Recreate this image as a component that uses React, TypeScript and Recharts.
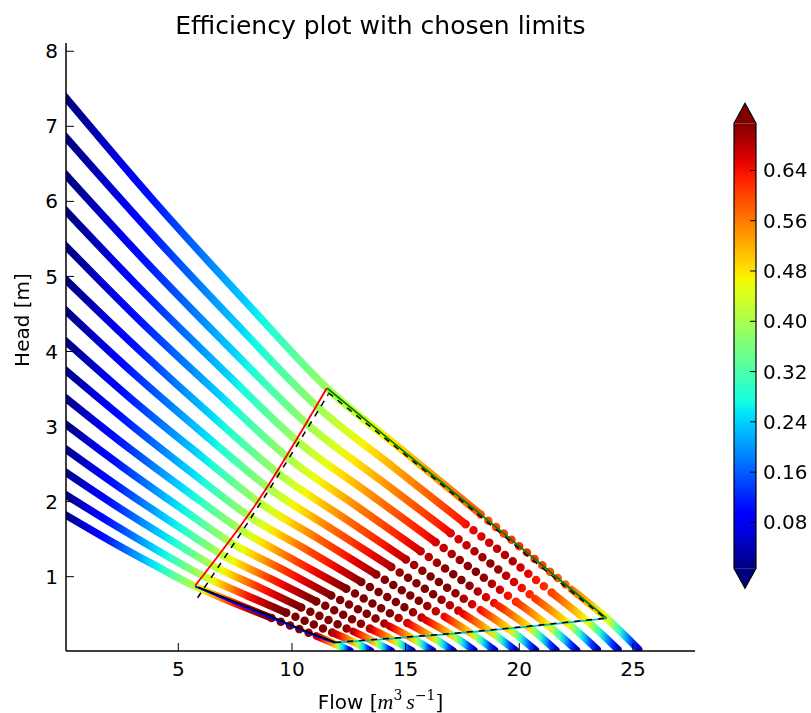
import React from 'react';
import { LineChart, Line, XAxis, YAxis } from 'recharts';

// one knot per row: [flow, head, efficiency]
type Knot = [number, number, number];

const curve01: Knot[] = [[0, 7.40, 0.00], [4.00, 5.98, 0.11], [8.00, 4.65, 0.24], [11.55, 3.51, 0.39], [15.00, 2.65, 0.50], [18.30, 1.83, 0.59], [20.30, 1.33, 0.62], [22.30, 0.83, 0.57], [23.85, 0.445, 0.46], [25.25, 0.03, 0.05]];
const curve02: Knot[] = [[0, 6.87, 0.00], [3.86, 5.56, 0.11], [7.71, 4.32, 0.24], [11.13, 3.26, 0.39], [14.46, 2.46, 0.52], [17.64, 1.70, 0.64], [19.57, 1.24, 0.69], [21.50, 0.77, 0.60], [22.99, 0.41, 0.46], [24.34, 0.03, 0.05]];
const curve03: Knot[] = [[0, 6.37, 0.00], [3.71, 5.15, 0.11], [7.42, 4.00, 0.24], [10.72, 3.02, 0.39], [13.92, 2.28, 0.53], [16.98, 1.58, 0.65], [18.84, 1.15, 0.71], [20.69, 0.71, 0.61], [22.13, 0.38, 0.47], [23.43, 0.03, 0.05]];
const curve04: Knot[] = [[0, 5.89, 0.00], [3.57, 4.76, 0.11], [7.14, 3.70, 0.24], [10.30, 2.79, 0.40], [13.38, 2.11, 0.54], [16.32, 1.46, 0.66], [18.11, 1.06, 0.72], [19.89, 0.66, 0.62], [21.27, 0.35, 0.47], [22.52, 0.02, 0.05]];
const curve05: Knot[] = [[0, 5.42, 0.00], [3.42, 4.38, 0.11], [6.85, 3.41, 0.24], [9.89, 2.57, 0.40], [12.84, 1.94, 0.55], [15.66, 1.34, 0.67], [17.38, 0.97, 0.73], [19.09, 0.61, 0.63], [20.42, 0.33, 0.48], [21.61, 0.02, 0.05]];
const curve06: Knot[] = [[0, 4.97, 0.00], [3.28, 4.02, 0.11], [6.56, 3.12, 0.25], [9.47, 2.36, 0.40], [12.30, 1.78, 0.56], [15.01, 1.23, 0.68], [16.65, 0.89, 0.74], [18.29, 0.56, 0.64], [19.56, 0.30, 0.48], [20.71, 0.02, 0.05]];
const curve07: Knot[] = [[0, 4.56, 0.00], [3.14, 3.68, 0.12], [6.28, 2.86, 0.25], [9.07, 2.16, 0.40], [11.78, 1.63, 0.57], [14.37, 1.13, 0.69], [15.94, 0.82, 0.74], [17.51, 0.51, 0.65], [18.72, 0.27, 0.49], [19.82, 0.02, 0.05]];
const curve08: Knot[] = [[0, 4.15, 0.00], [3.00, 3.35, 0.12], [5.99, 2.61, 0.25], [8.65, 1.97, 0.41], [11.24, 1.49, 0.58], [13.71, 1.03, 0.70], [15.20, 0.75, 0.75], [16.70, 0.47, 0.65], [17.86, 0.25, 0.49], [18.91, 0.02, 0.05]];
const curve09: Knot[] = [[0, 3.76, 0.01], [2.85, 3.04, 0.12], [5.70, 2.36, 0.25], [8.24, 1.78, 0.41], [10.70, 1.35, 0.59], [13.05, 0.93, 0.71], [14.47, 0.68, 0.75], [15.90, 0.42, 0.66], [17.00, 0.23, 0.49], [18.00, 0.02, 0.05]];
const curve10: Knot[] = [[0, 3.39, 0.01], [2.71, 2.74, 0.12], [5.42, 2.13, 0.26], [7.82, 1.61, 0.41], [10.16, 1.21, 0.60], [12.39, 0.84, 0.72], [13.74, 0.61, 0.76], [15.10, 0.38, 0.66], [16.15, 0.20, 0.50], [17.09, 0.01, 0.05]];
const curve11: Knot[] = [[0, 3.04, 0.01], [2.56, 2.46, 0.12], [5.13, 1.91, 0.26], [7.40, 1.44, 0.42], [9.62, 1.09, 0.61], [11.73, 0.75, 0.72], [13.01, 0.55, 0.76], [14.29, 0.34, 0.67], [15.29, 0.18, 0.50], [16.19, 0.01, 0.05]];
const curve12: Knot[] = [[0, 2.71, 0.01], [2.42, 2.19, 0.12], [4.84, 1.70, 0.26], [6.99, 1.28, 0.42], [9.08, 0.97, 0.62], [11.07, 0.67, 0.73], [12.28, 0.49, 0.76], [13.49, 0.30, 0.67], [14.43, 0.16, 0.50], [15.28, 0.01, 0.05]];
const curve13: Knot[] = [[0, 2.40, 0.01], [2.28, 1.94, 0.12], [4.55, 1.51, 0.26], [6.57, 1.14, 0.42], [8.54, 0.86, 0.62], [10.41, 0.59, 0.73], [11.55, 0.43, 0.77], [12.69, 0.27, 0.68], [13.57, 0.14, 0.51], [14.37, 0.01, 0.05]];
const curve14: Knot[] = [[0, 2.10, 0.01], [2.13, 1.70, 0.12], [4.26, 1.32, 0.26], [6.16, 1.00, 0.42], [8.00, 0.75, 0.63], [9.75, 0.52, 0.74], [10.82, 0.38, 0.77], [11.89, 0.24, 0.68], [12.71, 0.13, 0.51], [13.46, 0.01, 0.05]];
const curve15: Knot[] = [[0, 1.83, 0.01], [1.99, 1.48, 0.12], [3.98, 1.15, 0.26], [5.74, 0.87, 0.42], [7.46, 0.65, 0.63], [9.10, 0.45, 0.74], [10.09, 0.33, 0.77], [11.08, 0.21, 0.68], [11.85, 0.11, 0.51], [12.55, 0.01, 0.05]];

const curves = [curve01, curve02, curve03, curve04, curve05, curve06, curve07, curve08, curve09, curve10, curve11, curve12, curve13, curve14, curve15];

// chosen limits (coloured) and the fitted outline (black)
const limitLeft = [[5.74, 0.88], [8.6, 2.05], [11.53, 3.51]];
const limitTop = [[11.55, 3.51], [15.0, 2.65], [18.3, 1.83], [20.3, 1.33], [22.3, 0.83], [23.85, 0.445]];
const limitBottom = [[11.9, 0.12], [18.0, 0.265], [23.85, 0.445]];
const limitLowLeft = [[5.74, 0.87], [7.46, 0.65], [9.1, 0.45], [10.09, 0.33], [11.08, 0.21], [11.9, 0.12]];
const fitLeft = [[5.85, 0.72], [8.7, 2.02], [11.6, 3.43]];
const fitTop = [[11.6, 3.45], [15.0, 2.62], [18.3, 1.8], [22.3, 0.8], [23.85, 0.43]];
const fitBottom = [[11.9, 0.125], [18.0, 0.27], [23.85, 0.45]];
const fitLowLeft = [[5.9, 0.86], [7.46, 0.67], [9.1, 0.47], [10.5, 0.29], [11.9, 0.13]];

const xTicks = [5, 10, 15, 20, 25];
const yTicks = [1, 2, 3, 4, 5, 6, 7, 8];
const cbarTicks = [0.08, 0.16, 0.24, 0.32, 0.40, 0.48, 0.56, 0.64];
const effMin = 0.007;
const effMax = 0.715;

const JET: Record<string, number[][]> = {
  r: [[0, 0], [0.35, 0], [0.66, 1], [0.89, 1], [1, 0.5]],
  g: [[0, 0], [0.125, 0], [0.375, 1], [0.64, 1], [0.91, 0], [1, 0]],
  b: [[0, 0.5], [0.11, 1], [0.34, 1], [0.65, 0], [1, 0]],
};

function channel(pts: number[][], t: number) {
  for (let i = 1; i < pts.length; i++) {
    if (t <= pts[i][0]) {
      const [t0, v0] = pts[i - 1];
      const [t1, v1] = pts[i];
      return v0 + ((v1 - v0) * (t - t0)) / (t1 - t0);
    }
  }
  return pts[pts.length - 1][1];
}

function jetT(t: number) {
  const c = Math.max(0, Math.min(1, t));
  const r = Math.round(channel(JET.r, c) * 255);
  const g = Math.round(channel(JET.g, c) * 255);
  const b = Math.round(channel(JET.b, c) * 255);
  return `rgb(${r},${g},${b})`;
}

const jet = (eff: number) => jetT((eff - effMin) / (effMax - effMin));

function gradientStops(pts: Knot[]) {
  const x0 = pts[0][0];
  const x1 = pts[pts.length - 1][0];
  const out: { off: number; color: string }[] = [];
  for (let i = 0; i < pts.length - 1; i++) {
    const [qa, , ea] = pts[i];
    const [qb, , eb] = pts[i + 1];
    for (let k = 0; k < 5; k++) {
      const f = k / 5;
      out.push({ off: (qa + (qb - qa) * f - x0) / (x1 - x0), color: jet(ea + (eb - ea) * f) });
    }
  }
  out.push({ off: 1, color: jet(pts[pts.length - 1][2]) });
  return out;
}

// each curve: solid start, sparse dots near the peak, solid tail
const pieces = curves.flatMap((c, i) => [
  { id: `c${i}a`, pts: c.slice(0, 6), dotted: false },
  { id: `c${i}b`, pts: c.slice(5, 8), dotted: true },
  { id: `c${i}c`, pts: c.slice(7), dotted: false },
]);

const toRows = (pts: number[][]) => pts.map((p) => ({ flow: p[0], head: p[1] }));

const W = 795;
const H = 705;
const FONT = 'DejaVu Sans, sans-serif';

// colorbar geometry (page coordinates, overlay is fixed to the viewport)
const CB = { x0: 734, x1: 756, top: 123.3, bottom: 568.3, tip: 20 };
const cbY = (v: number) => CB.bottom - ((v - effMin) / (effMax - effMin)) * (CB.bottom - CB.top);

export default function App() {
  const tickStyle = { fill: '#000', fontSize: 20, fontFamily: FONT };
  const axisLine = { stroke: '#000', strokeWidth: 1.5 };
  const mid = (CB.x0 + CB.x1) / 2;
  return (
    <div style={{ position: 'relative', width: W, height: H }}>
      <style>{'html{overflow:hidden}'}</style>
      <LineChart width={W} height={H} margin={{ top: 35, right: 108, left: 0, bottom: 0 }}>
        <defs>
          {pieces.map((p) => (
            <linearGradient key={p.id} id={p.id} x1="0" y1="0" x2="1" y2="0">
              {gradientStops(p.pts).map((s, k) => (
                <stop key={k} offset={s.off} stopColor={s.color} />
              ))}
            </linearGradient>
          ))}
        </defs>
        <XAxis type="number" dataKey="flow" domain={[0.06, 27.73]} allowDataOverflow ticks={xTicks} interval={0}
          height={62} tickSize={-8} tickMargin={19} tick={tickStyle} axisLine={axisLine} tickLine={{ stroke: '#000' }} />
        <XAxis xAxisId="top" orientation="top" type="number" domain={[0.06, 27.73]} allowDataOverflow ticks={xTicks}
          interval={0} height={0} tickSize={-8} tick={false} axisLine={axisLine} tickLine={{ stroke: '#000' }} />
        <YAxis type="number" domain={[0.01, 8.11]} allowDataOverflow ticks={yTicks} interval={0} width={58}
          tickSize={-8} tickMargin={16} tick={tickStyle} axisLine={axisLine} tickLine={{ stroke: '#000' }} />
        <YAxis yAxisId="right" orientation="right" type="number" domain={[0.01, 8.11]} allowDataOverflow ticks={yTicks}
          interval={0} width={0} tickSize={-8} tick={false} axisLine={axisLine} tickLine={{ stroke: '#000' }} />
        {pieces.map((p) => (
          <Line key={p.id} data={toRows(p.pts)} dataKey="head" type="monotone" stroke={`url(#${p.id})`}
            strokeWidth={p.dotted ? 8.5 : 7.5} strokeLinecap="round" strokeDasharray={p.dotted ? '0 10' : undefined}
            dot={false} activeDot={false} legendType="none" isAnimationActive={false} />
        ))}
        <Line data={toRows(limitLowLeft)} dataKey="head" type="monotone" stroke="#0000ff" strokeWidth={2} dot={false} activeDot={false} isAnimationActive={false} />
        <Line data={toRows(fitLowLeft)} dataKey="head" type="monotone" stroke="#000" strokeWidth={1.5} dot={false} activeDot={false} isAnimationActive={false} />
        <Line data={toRows(limitTop)} dataKey="head" type="monotone" stroke="#008000" strokeWidth={1.8} dot={false} activeDot={false} isAnimationActive={false} />
        <Line data={toRows(limitBottom)} dataKey="head" type="monotone" stroke="#00bfbf" strokeWidth={1.8} dot={false} activeDot={false} isAnimationActive={false} />
        <Line data={toRows(fitLeft)} dataKey="head" type="monotone" stroke="#000" strokeWidth={1.5} strokeDasharray="6 6" dot={false} activeDot={false} isAnimationActive={false} />
        <Line data={toRows(fitTop)} dataKey="head" type="monotone" stroke="#000" strokeWidth={1.5} strokeDasharray="6 6" dot={false} activeDot={false} isAnimationActive={false} />
        <Line data={toRows(fitBottom)} dataKey="head" type="monotone" stroke="#000" strokeWidth={1.5} strokeDasharray="6 6" dot={false} activeDot={false} isAnimationActive={false} />
        <Line data={toRows(limitLeft)} dataKey="head" type="monotone" stroke="#ff0000" strokeWidth={1.8} dot={false} activeDot={false} isAnimationActive={false} />
      </LineChart>

      <svg width={811} height={713} style={{ position: 'fixed', left: 0, top: 0, pointerEvents: 'none' }}>
        <defs>
          <linearGradient id="cbar" x1="0" y1="1" x2="0" y2="0">
            {Array.from({ length: 41 }, (_, k) => (
              <stop key={k} offset={k / 40} stopColor={jetT(k / 40)} />
            ))}
          </linearGradient>
        </defs>
        <text x={380.5} y={34} textAnchor="middle" fontSize={25} fontFamily={FONT} fill="#000">
          Efficiency plot with chosen limits
        </text>
        <text transform="translate(29,320) rotate(-90)" textAnchor="middle" fontSize={20} fontFamily={FONT} fill="#000">
          Head [m]
        </text>
        <text x={380.5} y={709} textAnchor="middle" fontSize={20} fontFamily={FONT} fill="#000">
          Flow <tspan fontFamily="DejaVu Serif">[</tspan>
          <tspan fontFamily="Liberation Serif" fontStyle="italic" fontSize={22}>m</tspan>
          <tspan fontFamily="DejaVu Serif" fontSize={14} dy={-9}>3</tspan>
          <tspan fontFamily="Liberation Serif" fontStyle="italic" fontSize={22} dy={9} dx={4}>s</tspan>
          <tspan fontFamily="DejaVu Serif" fontSize={14} dy={-9}>−1</tspan>
          <tspan fontFamily="DejaVu Serif" dy={9}>]</tspan>
        </text>

        <rect x={CB.x0} y={CB.top} width={CB.x1 - CB.x0} height={CB.bottom - CB.top} fill="url(#cbar)" />
        <polygon points={`${CB.x0},${CB.top} ${mid},${CB.top - CB.tip} ${CB.x1},${CB.top}`} fill={jetT(1)} />
        <polygon points={`${CB.x0},${CB.bottom} ${mid},${CB.bottom + CB.tip} ${CB.x1},${CB.bottom}`} fill={jetT(0)} />
        <path
          d={`M${CB.x0},${CB.bottom} L${CB.x0},${CB.top} L${mid},${CB.top - CB.tip} L${CB.x1},${CB.top} L${CB.x1},${CB.bottom} L${mid},${CB.bottom + CB.tip} Z`}
          fill="none" stroke="#000" strokeWidth={1.2} />
        {cbarTicks.map((v) => (
          <g key={v}>
            <line x1={CB.x1 - 6} x2={CB.x1} y1={cbY(v)} y2={cbY(v)} stroke="#000" strokeWidth={1} />
            <text x={CB.x1 + 7} y={cbY(v)} dy="0.35em" fontSize={20} fontFamily={FONT} fill="#000">
              {v.toFixed(2)}
            </text>
          </g>
        ))}
      </svg>
    </div>
  );
}
